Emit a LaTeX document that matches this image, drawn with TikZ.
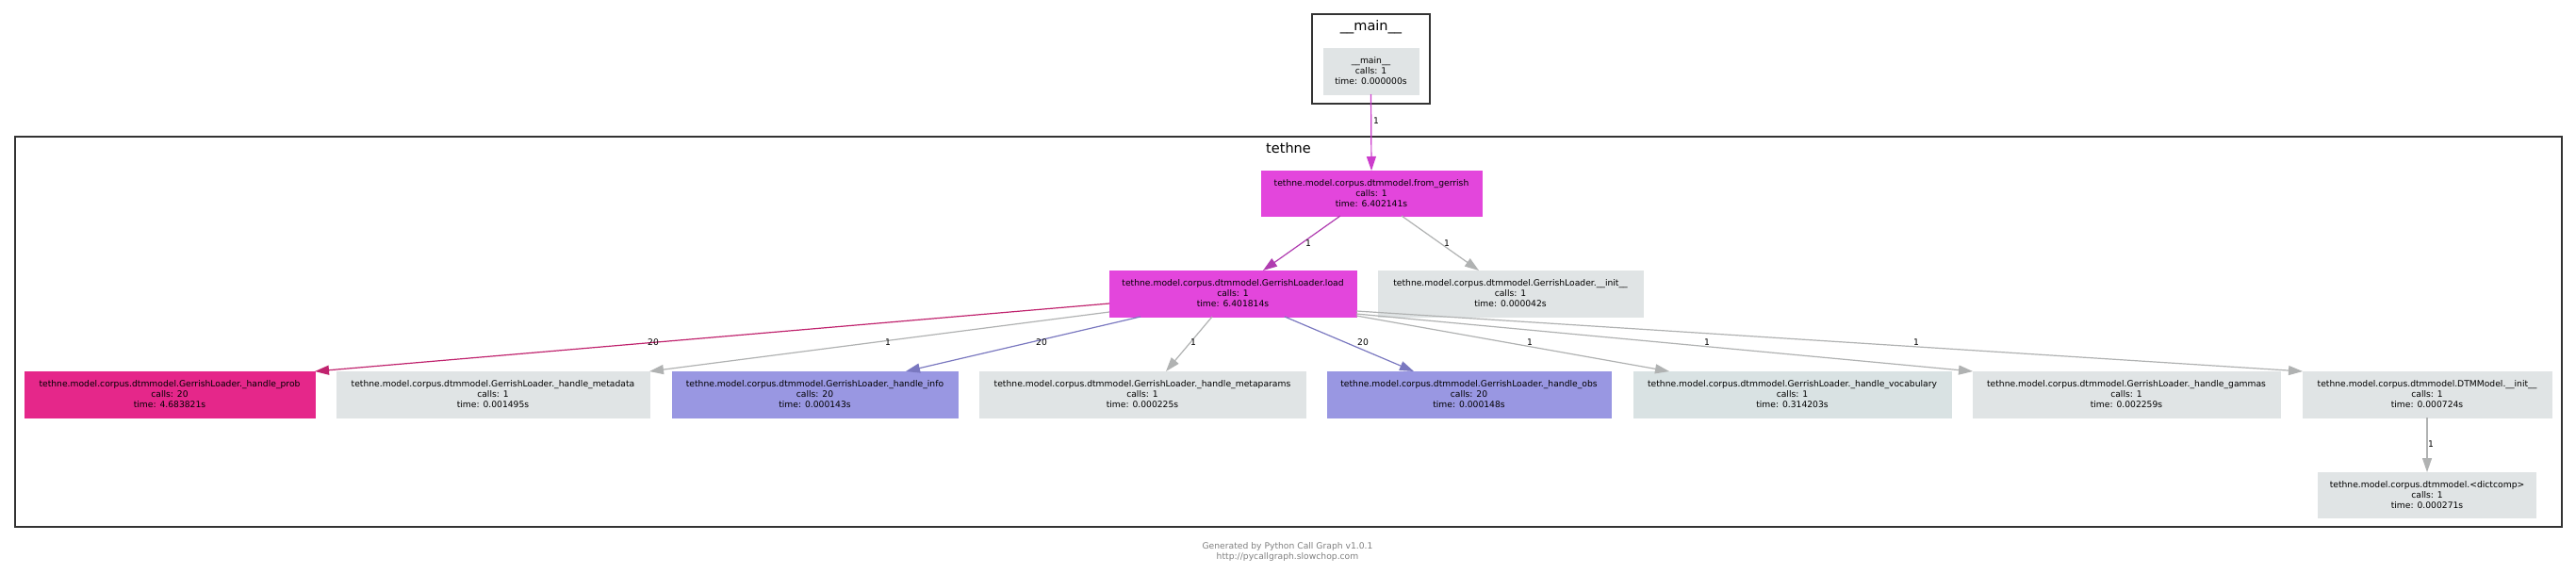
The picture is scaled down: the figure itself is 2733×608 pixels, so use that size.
\documentclass[tikz,border=0pt]{standalone}
\usepackage{fontspec}
\setmainfont{DejaVu Sans}
\usetikzlibrary{arrows.meta}
\definecolor{ngray}{HTML}{E0E4E5}
\definecolor{nvocab}{HTML}{D9E2E3}
\definecolor{nhot}{HTML}{E346DC}
\definecolor{nprob}{HTML}{E5278A}
\definecolor{nblue}{HTML}{9997E2}
\definecolor{emain}{HTML}{CC3CCC}
\definecolor{efg}{HTML}{B03CB0}
\definecolor{eprob}{HTML}{C0236E}
\definecolor{eblue}{HTML}{7A78C0}
\definecolor{egray}{HTML}{B0B2B2}
\definecolor{clus}{HTML}{333333}
\definecolor{foot}{HTML}{808080}
\begin{document}
\begin{tikzpicture}[x=1pt,y=-1pt,
  every node/.style={inner sep=0pt, outer sep=0pt},
  fn/.style={rectangle, minimum height=49pt, align=center, text=black,
    font=\fontsize{9.2}{11}\selectfont, line width=0.6pt},
  lbl/.style={font=\fontsize{9.2}{11}\selectfont, text=black},
  conn/.style={line width=1.2pt, -{Triangle[length=15pt,width=10pt]}},
  cluster/.style={draw=clus, line width=2.5pt, rectangle},
  ctitle/.style={font=\fontsize{14.5}{16}\selectfont, anchor=base}
]
\fill[white] (0,0) rectangle (2733,608);
\useasboundingbox (0,0) rectangle (2733,608);

% clusters
\node[cluster, minimum width=125pt, minimum height=95pt] (cmain) at (1454.5,62.5) {};
\node[ctitle] (tmain) at (1454.5,32) {\_\_main\_\_};
\node[cluster, minimum width=2702pt, minimum height=414pt] (ctethne) at (1367,352) {};
\node[ctitle] (ttethne) at (1367,162) {tethne};

% nodes
\node[fn, fill=ngray, draw=ngray, minimum width=101pt] (main) at (1454.5,75.5) {\_\_main\_\_\\calls: 1\\time: 0.000000s};
\node[fn, fill=nhot, draw=nhot, minimum width=234pt, minimum height=48pt] (fg) at (1455,205) {tethne.model.corpus.dtmmodel.from\_gerrish\\calls: 1\\time: 6.402141s};
\node[fn, fill=nhot, draw=nhot, minimum width=262pt] (load) at (1308,311.5) {tethne.model.corpus.dtmmodel.GerrishLoader.load\\calls: 1\\time: 6.401814s};
\node[fn, fill=ngray, draw=ngray, minimum width=281pt] (glinit) at (1602.5,311.5) {tethne.model.corpus.dtmmodel.GerrishLoader.\_\_init\_\_\\calls: 1\\time: 0.000042s};

\node[fn, fill=nprob, draw=nprob, minimum width=308pt] (prob) at (180,418.5) {tethne.model.corpus.dtmmodel.GerrishLoader.\_handle\_prob\\calls: 20\\time: 4.683821s};
\node[fn, fill=ngray, draw=ngray, minimum width=332pt] (meta) at (523,418.5) {tethne.model.corpus.dtmmodel.GerrishLoader.\_handle\_metadata\\calls: 1\\time: 0.001495s};
\node[fn, fill=nblue, draw=nblue, minimum width=303pt] (info) at (864.5,418.5) {tethne.model.corpus.dtmmodel.GerrishLoader.\_handle\_info\\calls: 20\\time: 0.000143s};
\node[fn, fill=ngray, draw=ngray, minimum width=346pt] (mparams) at (1212,418.5) {tethne.model.corpus.dtmmodel.GerrishLoader.\_handle\_metaparams\\calls: 1\\time: 0.000225s};
\node[fn, fill=nblue, draw=nblue, minimum width=301pt] (obs) at (1558.5,418.5) {tethne.model.corpus.dtmmodel.GerrishLoader.\_handle\_obs\\calls: 20\\time: 0.000148s};
\node[fn, fill=nvocab, draw=nvocab, minimum width=337pt] (vocab) at (1901.5,418.5) {tethne.model.corpus.dtmmodel.GerrishLoader.\_handle\_vocabulary\\calls: 1\\time: 0.314203s};
\node[fn, fill=ngray, draw=ngray, minimum width=326pt] (gammas) at (2256,418.5) {tethne.model.corpus.dtmmodel.GerrishLoader.\_handle\_gammas\\calls: 1\\time: 0.002259s};
\node[fn, fill=ngray, draw=ngray, minimum width=264pt] (dtm) at (2575,418.5) {tethne.model.corpus.dtmmodel.DTMModel.\_\_init\_\_\\calls: 1\\time: 0.000724s};
\node[fn, fill=ngray, draw=ngray, minimum width=231pt, minimum height=48pt] (dictc) at (2575,525) {tethne.model.corpus.dtmmodel.<dictcomp>\\calls: 1\\time: 0.000271s};

% edges
\draw[conn, emain] (main.south) -- (fg.north);
\draw[conn, efg] ([xshift=-33pt]fg.south) -- ([xshift=32pt]load.north);
\draw[conn, egray] ([xshift=32pt]fg.south) -- ([xshift=-33.5pt]glinit.north);
\draw[conn, eprob] ([yshift=-10.5pt]load.west) -- (prob.north east);
\draw[conn, egray] ([yshift=-19.5pt]load.west) -- (meta.north east);
\draw[conn, eblue] ([xshift=-98pt]load.south) -- ([xshift=96.5pt]info.north);
\draw[conn, egray] ([xshift=-22pt]load.south) -- ([xshift=25pt]mparams.north);
\draw[conn, eblue] ([xshift=55pt]load.south) -- ([xshift=-58.5pt]obs.north);
\draw[conn, egray] ([yshift=1pt]load.south east) -- ([xshift=38pt]vocab.north west);
\draw[conn, egray] ([yshift=3pt]load.south east) -- (gammas.north west);
\draw[conn, egray] ([yshift=6pt]load.south east) -- (dtm.north west);
\draw[conn, egray] (dtm.south) -- (dictc.north);

% edge labels
\node[lbl] (l1) at (1460,128) {1};
\node[lbl] (l2) at (1388,258) {1};
\node[lbl] (l3) at (1535,258) {1};
\node[lbl] (l4) at (693,363) {20};
\node[lbl] (l5) at (942,363) {1};
\node[lbl] (l6) at (1105,363) {20};
\node[lbl] (l7) at (1266,363) {1};
\node[lbl] (l8) at (1446,363) {20};
\node[lbl] (l9) at (1623,363) {1};
\node[lbl] (l10) at (1811,363) {1};
\node[lbl] (l11) at (2033,363) {1};
\node[lbl] (l12) at (2579,471) {1};

% footer
\node[font=\fontsize{9.2}{11}\selectfont, text=foot, align=center] (footer) at (1366,585.5) {Generated by Python Call Graph v1.0.1\\http://pycallgraph.slowchop.com};
\end{tikzpicture}
\end{document}
